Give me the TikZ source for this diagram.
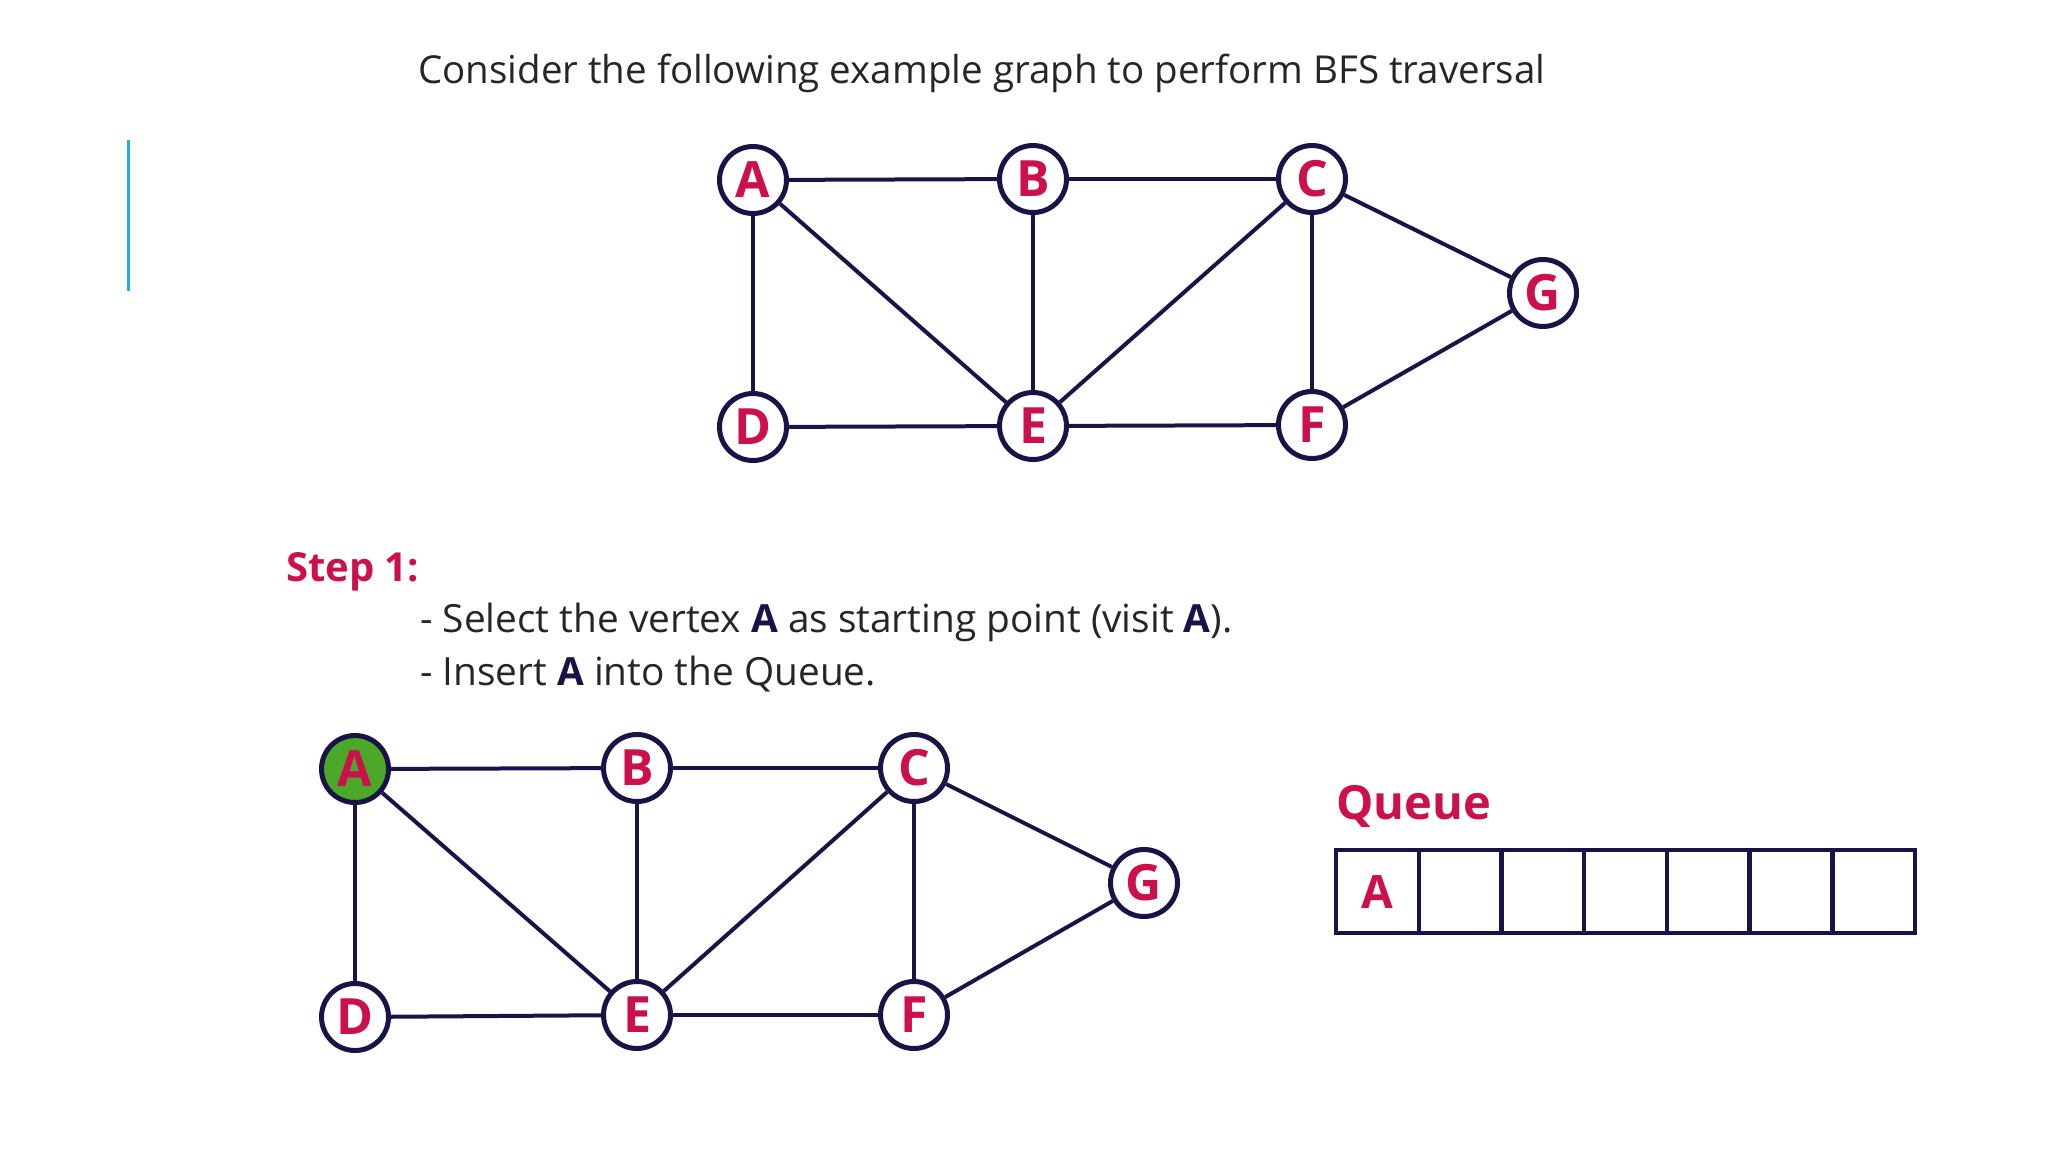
\documentclass[tikz,border=0pt]{standalone}
\usepackage{fontspec}
\setmainfont{Open Sans}
\usepackage{xcolor}
\definecolor{bfsred}{RGB}{204,16,76}
\definecolor{bfsnavy}{RGB}{24,20,72}
\definecolor{bfsgreen}{RGB}{76,168,40}
\definecolor{bfsblue}{RGB}{41,171,226}
\tikzset{
  vtx/.style={circle, draw=bfsnavy, line width=5pt, fill=white, minimum size=67pt, inner sep=0pt,
    text=bfsred, font=\fontsize{50}{50}\selectfont\bfseries},
  vtxseen/.style={vtx, fill=bfsgreen},
  edge/.style={line width=4pt, draw=bfsnavy},
  qcell/.style={rectangle, draw=bfsnavy, line width=4.5pt, minimum width=82.7pt, minimum height=83pt,
    inner sep=0pt, text=bfsred, font=\fontsize{46}{46}\selectfont\bfseries},
  body/.style={anchor=base west, inner sep=0pt, text=black!85, font=\fontsize{38.8}{44}\selectfont},
  heading/.style={anchor=base west, inner sep=0pt, text=bfsred, font=\fontsize{40}{44}\selectfont\bfseries},
}
\newcommand{\hl}[1]{\textbf{\color{bfsnavy}#1}}
\begin{document}
\begin{tikzpicture}[x=1pt, y=-1pt]
\useasboundingbox (0,0) rectangle (2048,1152);
\draw[bfsblue, line width=3pt] (128,140) -- (128,291);
\node[body, font=\fontsize{38.5}{44}\selectfont] (title) at (418,83) {Consider the following example graph to perform BFS traversal};
% example graph
\node[vtx] (tA) at (753,180) {A};
\node[vtx] (tB) at (1033,179) {B};
\node[vtx] (tC) at (1312,179) {C};
\node[vtx] (tG) at (1543,293) {G};
\node[vtx] (tD) at (753,427) {D};
\node[vtx] (tE) at (1033,426) {E};
\node[vtx] (tF) at (1312,425) {F};
\draw[edge] (tA) -- (tB);
\draw[edge] (tB) -- (tC);
\draw[edge] (tA) -- (tD);
\draw[edge] (tA) -- (tE);
\draw[edge] (tB) -- (tE);
\draw[edge] (tC) -- (tE);
\draw[edge] (tC) -- (tF);
\draw[edge] (tC) -- (tG);
\draw[edge] (tD) -- (tE);
\draw[edge] (tE) -- (tF);
\draw[edge] (tF) -- (tG);
% step 1
\node[heading] (step) at (286,581) {Step 1:};
\node[body] (line1) at (420,632) {- Select the vertex \hl{A} as starting point (visit \hl{A}).};
\node[body] (line2) at (420,685) {- Insert \hl{A} into the Queue.};
\node[vtxseen] (sA) at (355,769) {A};
\node[vtx] (sB) at (637,768) {B};
\node[vtx] (sC) at (914,768) {C};
\node[vtx] (sG) at (1144,883) {G};
\node[vtx] (sD) at (355,1017) {D};
\node[vtx] (sE) at (637,1015) {E};
\node[vtx] (sF) at (914,1015) {F};
\draw[edge] (sA) -- (sB);
\draw[edge] (sB) -- (sC);
\draw[edge] (sA) -- (sD);
\draw[edge] (sA) -- (sE);
\draw[edge] (sB) -- (sE);
\draw[edge] (sC) -- (sE);
\draw[edge] (sC) -- (sF);
\draw[edge] (sC) -- (sG);
\draw[edge] (sD) -- (sE);
\draw[edge] (sE) -- (sF);
\draw[edge] (sF) -- (sG);
% queue
\node[heading, font=\fontsize{47}{50}\selectfont\bfseries] (qlabel) at (1336,819) {Queue};
\node[qcell] (q1) at (1377.4,891.5) {A};
\node[qcell] (q2) at (1460.1,891.5) {};
\node[qcell] (q3) at (1542.8,891.5) {};
\node[qcell] (q4) at (1625.5,891.5) {};
\node[qcell] (q5) at (1708.2,891.5) {};
\node[qcell] (q6) at (1790.9,891.5) {};
\node[qcell] (q7) at (1873.6,891.5) {};
\end{tikzpicture}
\end{document}
